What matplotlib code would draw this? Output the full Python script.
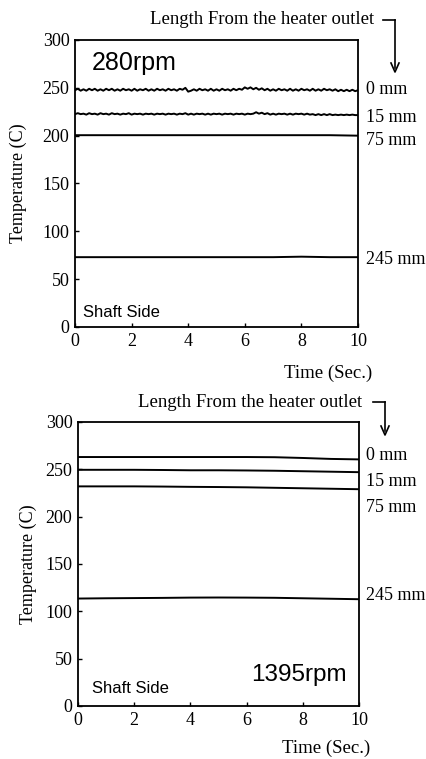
import numpy as np
import matplotlib.pyplot as plt
from matplotlib.lines import Line2D

# --- data ---
t_fine = np.linspace(0, 10, 101)
t_coarse = np.linspace(0, 10, 11)

top_0mm = [247.5, 249, 247, 248.5, 247, 249, 247.5, 249, 247, 248.5, 247,
           249, 247.5, 249, 247, 248.5, 247, 249, 247.5, 248.5, 247,
           249, 247, 248.5, 247.5, 249, 247, 248.5, 247, 249, 247.5,
           248.5, 247, 249, 247.5, 248.5, 247, 249, 248, 250, 246,
           247, 248.5, 247, 249, 247.5, 248.5, 247, 249, 247, 248.5,
           247, 249, 247.5, 248.5, 247, 249, 247.5, 249, 248, 250.5,
           249, 250.5, 248.5, 250, 248, 249.5, 247.5, 249, 247, 248.5,
           247, 249, 247.5, 248.5, 247, 249, 247, 248.5, 247, 249,
           247.5, 248.5, 247, 249, 247, 248.5, 247, 249, 247.5, 248.5,
           247, 248.5, 246.5, 248, 246.5, 248, 246.5, 248, 246.5, 247.5]
top_15mm = [222.5, 223.5, 222.5, 223, 222, 223.5, 222.5, 223, 222, 223.5, 222.5,
            223, 222, 223.5, 222.5, 223, 222, 223, 222.5, 223.5, 222,
            223, 222.5, 223, 222, 223, 222.5, 223, 222, 223, 222.5,
            223, 222, 223, 222.5, 223, 222, 223, 222.5, 223.5, 222,
            223, 222, 223, 222.5, 223, 222, 223, 222, 223, 222.5,
            223, 222, 223, 222.5, 223, 222, 223, 222.5, 223, 222,
            223, 222.5, 223, 224.5, 223, 224, 222.5, 223.5, 222, 223,
            222, 223, 222.5, 223, 222, 223, 222, 223, 222.5, 223,
            222, 223, 222, 222.5, 221.5, 222.5, 221.5, 222.5, 221.5, 222.5,
            221.5, 222, 221.5, 222, 221.5, 222, 221.5, 222, 221.5, 221.5]
top_75mm = [200.5, 200.5, 200.5, 200.5, 200.5, 200.5, 200.5, 200.5, 200.5, 200.5, 200]
top_245mm = [73, 73, 73, 73, 73, 73, 73, 73, 73.5, 73, 73]

bot_0mm = [263, 263, 263, 263, 263, 263, 263, 262.8, 262, 261, 260.5]
bot_15mm = [249.5, 249.5, 249.5, 249.3, 249, 249, 248.8, 248.5, 248, 247.5, 247]
bot_75mm = [232, 232, 232, 231.8, 231.5, 231.3, 231, 230.5, 230, 229.5, 229]
bot_245mm = [113.5, 113.8, 114, 114.2, 114.5, 114.6, 114.5, 114.3, 113.8, 113.3, 112.8]

length_labels = ['0 mm', '15 mm', '75 mm', '245 mm']
top_label_y = [248, 219, 195, 71]
bot_label_y = [265, 237, 210, 117]

W, H = 427, 759
SERIF = ['Liberation Serif', 'DejaVu Serif']
SANS = ['Liberation Sans', 'DejaVu Sans']

fig = plt.figure(figsize=(W / 100, H / 100), dpi=100)


def fx(x):
    return x / W


def fy(y):
    return 1 - y / H


def setup_axes(ax):
    ax.set_xlim(0, 10)
    ax.set_ylim(0, 300)
    ax.set_xticks([0, 2, 4, 6, 8, 10])
    ax.set_yticks([0, 50, 100, 150, 200, 250, 300])
    ax.tick_params(direction='in', length=3, width=1, labelsize=13, pad=4)
    for lab in ax.get_xticklabels() + ax.get_yticklabels():
        lab.set_fontfamily(SERIF)
    for s in ax.spines.values():
        s.set_linewidth(1.3)
    ax.set_ylabel('Temperature (C)', fontfamily=SERIF, fontsize=13)


# top panel: 280 rpm
ax1 = fig.add_axes([fx(75), fy(327), fx(358 - 75), (327 - 40) / H])
setup_axes(ax1)
ax1.plot(t_fine, top_0mm, color='black', lw=1.4)
ax1.plot(t_fine, top_15mm, color='black', lw=1.4)
ax1.plot(t_coarse, top_75mm, color='black', lw=1.4)
ax1.plot(t_coarse, top_245mm, color='black', lw=1.4)
ax1.text(0.06, 0.92, '280rpm', transform=ax1.transAxes, fontfamily=SANS,
         fontsize=18, va='center', ha='left')
ax1.text(0.03, 0.05, 'Shaft Side', transform=ax1.transAxes, fontfamily=SANS,
         fontsize=12, va='center', ha='left')
for lab, yv in zip(length_labels, top_label_y):
    ax1.text(10.3, yv, lab, fontfamily=SERIF, fontsize=13, va='center',
             ha='left', clip_on=False)
ax1.yaxis.set_label_coords(-0.17, 0.5)

# bottom panel: 1395 rpm
ax2 = fig.add_axes([fx(78), fy(706), fx(359 - 78), (706 - 422) / H])
setup_axes(ax2)
ax2.plot(t_coarse, bot_0mm, color='black', lw=1.4)
ax2.plot(t_coarse, bot_15mm, color='black', lw=1.4)
ax2.plot(t_coarse, bot_75mm, color='black', lw=1.4)
ax2.plot(t_coarse, bot_245mm, color='black', lw=1.4)
ax2.text(0.955, 0.11, '1395rpm', transform=ax2.transAxes, fontfamily=SANS,
         fontsize=17.5, va='center', ha='right')
ax2.text(0.05, 0.06, 'Shaft Side', transform=ax2.transAxes, fontfamily=SANS,
         fontsize=12, va='center', ha='left')
for lab, yv in zip(length_labels, bot_label_y):
    ax2.text(10.25, yv, lab, fontfamily=SERIF, fontsize=13, va='center',
             ha='left', clip_on=False)
ax2.yaxis.set_label_coords(-0.145, 0.5)

# x axis labels placed under the right part of the axes
fig.text(fx(328), fy(373), 'Time (Sec.)', fontfamily=SERIF, fontsize=13.5,
         ha='center', va='center')
fig.text(fx(326), fy(748), 'Time (Sec.)', fontfamily=SERIF, fontsize=13.5,
         ha='center', va='center')

# "Length From the heater outlet" headers with bent arrows
for text_x, text_y, ax_x, y_end in [(262, 20, 395, 72), (250, 402, 385, 435)]:
    fig.text(fx(text_x), fy(text_y), 'Length From the heater outlet',
             fontfamily=SERIF, fontsize=13.5, ha='center', va='center')
    fig.add_artist(Line2D([fx(ax_x - 12), fx(ax_x)], [fy(text_y), fy(text_y)],
                          color='black', lw=1.2, transform=fig.transFigure))
    fig.add_artist(Line2D([fx(ax_x), fx(ax_x)], [fy(text_y), fy(y_end - 4)],
                          color='black', lw=1.2, transform=fig.transFigure))
    fig.add_artist(Line2D([fx(ax_x - 4), fx(ax_x), fx(ax_x + 4)],
                          [fy(y_end - 9), fy(y_end), fy(y_end - 9)],
                          color='black', lw=1.2, transform=fig.transFigure))

fig.savefig('out.png', dpi=100)
